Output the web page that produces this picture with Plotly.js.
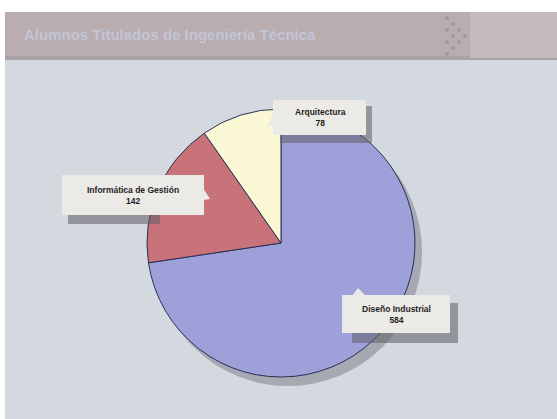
<!DOCTYPE html>
<html>
<head>
<meta charset="utf-8">
<script src="https://cdn.plot.ly/plotly-3.0.1.min.js"></script>
<style>html,body{margin:0;padding:0;background:#fff;}#chart{width:557px;height:419px;}</style>
</head>
<body>
<div id="chart"></div>
<script>
// ---- data (clockwise from 12 o'clock) ----
var categories = ["Diseño Industrial", "Informática de Gestión", "Arquitectura"];
var values = [584, 142, 78];
var sliceColors = ["#9ea0da", "#c8727a", "#fbf8d6"];
var titleText = "Alumnos Titulados de Ingeniería Técnica";

var W = 557, H = 419;
function X(px){ return px / W; }
function Y(py){ return 1 - py / H; }

// pie geometry (pixels)
var cx = 281, cy = 243, r = 134;
var shadowDx = 7, shadowDy = 9;

var pieTrace = {
  type: "pie",
  values: values,
  labels: categories,
  sort: false,
  direction: "clockwise",
  rotation: 0,
  textinfo: "none",
  hoverinfo: "label+value",
  showlegend: false,
  marker: {colors: sliceColors, line: {color: "#2a2f55", width: 1}},
  domain: {x: [X(cx - r), X(cx + r)], y: [Y(cy + r), Y(cy - r)]}
};
var shadowTrace = {
  type: "pie",
  values: [1],
  labels: ["shadow"],
  sort: false,
  textinfo: "none",
  hoverinfo: "skip",
  showlegend: false,
  marker: {colors: ["rgba(110,112,122,0.45)"], line: {width: 0}},
  domain: {x: [X(cx - r + shadowDx), X(cx + r + shadowDx)], y: [Y(cy + r + shadowDy), Y(cy - r + shadowDy)]}
};

function rect(x0, y0, x1, y1, fill, layer) {
  return {type: "rect", xref: "paper", yref: "paper", x0: X(x0), x1: X(x1), y0: Y(y1), y1: Y(y0),
    fillcolor: fill, line: {width: 0}, layer: layer || "below"};
}
function tri(pts, fill) {
  var d = "M" + pts.map(function(p){ return X(p[0]) + "," + Y(p[1]); }).join(" L") + " Z";
  return {type: "path", xref: "paper", yref: "paper", path: d, fillcolor: fill, line: {width: 0}, layer: "above"};
}

var boxFill = "#eceae7";
var shadowFill = "rgba(95,95,100,0.55)";

var shapes = [
  // header bar
  rect(5, 12, 557, 58, "#b9adaf"),
  rect(5, 56, 557, 60, "#a9a3a6"),
  rect(470, 12, 557, 58, "#c3babc"),
  // white frame
  rect(0, 0, 557, 12, "#ffffff"),
  rect(0, 0, 5, 419, "#ffffff"),
  // label box shadows
  rect(280, 106, 372, 143, shadowFill, "above"),
  rect(68, 205, 160, 224, shadowFill, "above"),
  rect(352, 303, 458, 343, shadowFill, "above"),
  // label boxes
  rect(273, 100, 366, 135, boxFill, "above"),
  rect(62, 175, 204, 215, boxFill, "above"),
  rect(342, 295, 450, 333, boxFill, "above"),
  // pointers
  tri([[274, 112], [274, 124], [266, 128]], boxFill),
  tri([[203, 188], [203, 200], [210, 199]], boxFill),
  tri([[352, 296], [366, 296], [358, 288]], boxFill)
];

// logo dots in header
var logoDots = [[447,18],[453,24],[459,30],[465,36],[447,30],[453,36],[459,42],[447,42],[453,48],[447,54]];
logoDots.forEach(function(p){
  shapes.push({type: "circle", xref: "paper", yref: "paper", x0: X(p[0]-2), x1: X(p[0]+2), y0: Y(p[1]+2), y1: Y(p[1]-2),
    fillcolor: "#9e9aa3", line: {width: 0}, layer: "below"});
});

var labFont = {family: "Liberation Sans, Arial, sans-serif", size: 8.5, color: "#1e1e1e"};
function lab(i, px, py) {
  return {xref: "paper", yref: "paper", x: X(px), y: Y(py), xanchor: "center", yanchor: "middle",
    text: "<b>" + categories[i] + "<br>" + values[i] + "</b>", showarrow: false, font: labFont, align: "center"};
}

var annotations = [
  lab(2, 320, 117),
  lab(1, 133, 195),
  lab(0, 396, 314),
  {xref: "paper", yref: "paper", x: X(22), y: Y(35), xanchor: "left", yanchor: "middle", showarrow: false,
    text: "<b>" + titleText + "</b>", font: {family: "Liberation Sans, Arial, sans-serif", size: 15, color: "#c3c5d6"}}
];

var layout = {
  width: W, height: H,
  margin: {l: 0, r: 0, t: 0, b: 0},
  paper_bgcolor: "#d4d8df",
  plot_bgcolor: "#d4d8df",
  showlegend: false,
  shapes: shapes,
  annotations: annotations
};

Plotly.newPlot("chart", [shadowTrace, pieTrace], layout, {displayModeBar: false, staticPlot: true});
</script>
</body>
</html>
